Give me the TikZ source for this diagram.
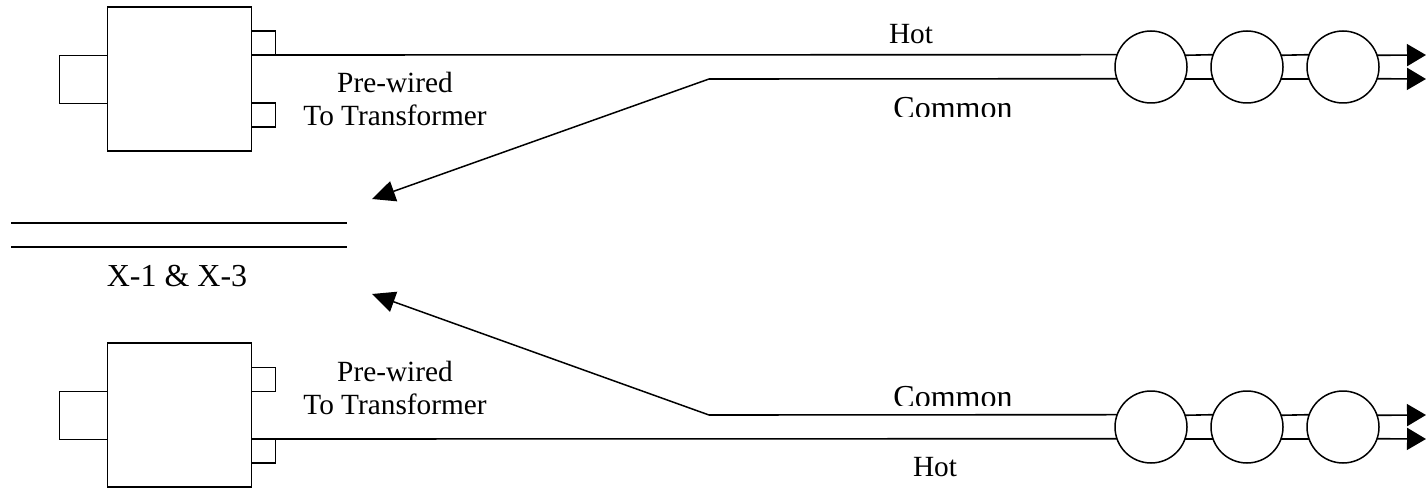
\documentclass[tikz,border=0pt]{standalone}
\usepackage{fontspec}
\setmainfont{Liberation Serif}
\usetikzlibrary{arrows.meta,calc}
\tikzset{
  box/.style={draw,line width=1.5pt,fill=white,inner sep=0pt,outer sep=0pt,minimum width=#1,minimum height=#1,anchor=north west},
  lamp/.style={draw,line width=1.5pt,fill=white,circle,inner sep=0pt,outer sep=0pt,minimum size=72pt},
  wire/.style={line width=1.6pt},
  lead/.style={wire,-{Triangle[length=19pt,width=22pt]}},
  ptr/.style={line width=1.5pt,-{Triangle[length=23pt,width=21pt]}},
  lbl/.style={font=\fontsize{29.3pt}{32.6pt}\selectfont,inner sep=0pt,align=center},
  biglbl/.style={font=\fontsize{32pt}{36pt}\selectfont,inner sep=0pt}
}
\begin{document}
\begin{tikzpicture}[x=1pt,y=-1pt]
\useasboundingbox (0,0) rectangle (1426,489);
% top unit
\node[box=144pt] (b1) at (107.7,7.2) {};
\node[box=24pt] (t1a) at (251.7,31) {};
\node[box=24pt] (t1b) at (251.7,102.8) {};
\node[box=48pt] (l1) at (59.7,55.7) {};
% bottom unit
\node[box=144pt] (b2) at (107.7,343.2) {};
\node[box=24pt] (t2a) at (251.7,367.4) {};
\node[box=24pt] (t2b) at (251.7,439) {};
\node[box=48pt] (l2) at (59.7,391.6) {};
% lamps
\foreach \n/\x in {1/1151,2/1247,3/1343}{
  \node[lamp] (a\n) at (\x,67) {};
  \node[lamp] (c\n) at (\x,427) {};
}
% free ends
\coordinate (endA1) at (1426,55);
\coordinate (endA2) at (1426,79);
\coordinate (endC1) at (1426,415);
\coordinate (endC2) at (1426,439);
\coordinate (k1) at (709,79);
\coordinate (k2) at (709,415);
\coordinate (p1) at (372,199);
\coordinate (p2) at (372,294);
\coordinate (s1a) at (11,223);\coordinate (s1b) at (347,223);
\coordinate (s2a) at (11,247);\coordinate (s2b) at (347,247);
% top wires
\draw[wire] (t1a.south east) -- (a1.160.53);
\draw[wire] (a1.19.47) -- (a2.160.53);
\draw[wire] (a2.19.47) -- (a3.160.53);
\draw[lead] (a3.19.47) -- (endA1);
\draw[wire] (k1) -- (a1.199.47);
\draw[wire] (a1.-19.47) -- (a2.199.47);
\draw[wire] (a2.-19.47) -- (a3.199.47);
\draw[lead] (a3.-19.47) -- (endA2);
\draw[ptr] (k1) -- (p1);
% bottom wires
\draw[wire] (k2) -- (c1.160.53);
\draw[wire] (c1.19.47) -- (c2.160.53);
\draw[wire] (c2.19.47) -- (c3.160.53);
\draw[lead] (c3.19.47) -- (endC1);
\draw[wire] (t2b.north east) -- (c1.199.47);
\draw[wire] (c1.-19.47) -- (c2.199.47);
\draw[wire] (c2.-19.47) -- (c3.199.47);
\draw[lead] (c3.-19.47) -- (endC2);
\draw[ptr] (k2) -- (p2);
% X lines
\draw[wire] (s1a) -- (s1b);
\draw[wire] (s2a) -- (s2b);
% labels
\node[lbl,anchor=base] (hot1) at (911,43.5) {Hot};
\begin{scope}
\clip (880,90) rectangle (1030,116.7);
\node[biglbl,anchor=base] (com1) at (953,119) {Common};
\end{scope}
\node[lbl] (pw1) at (395,99) {Pre-wired\\To Transformer};
\node[biglbl,anchor=base] (xx) at (177,286) {X-1 \& X-3};
\node[lbl] (pw2) at (395,388) {Pre-wired\\To Transformer};
\begin{scope}
\clip (880,375) rectangle (1030,405);
\node[biglbl,anchor=base] (com2) at (953,407) {Common};
\end{scope}
\node[lbl,anchor=base] (hot2) at (935,476) {Hot};
\end{tikzpicture}
\end{document}
